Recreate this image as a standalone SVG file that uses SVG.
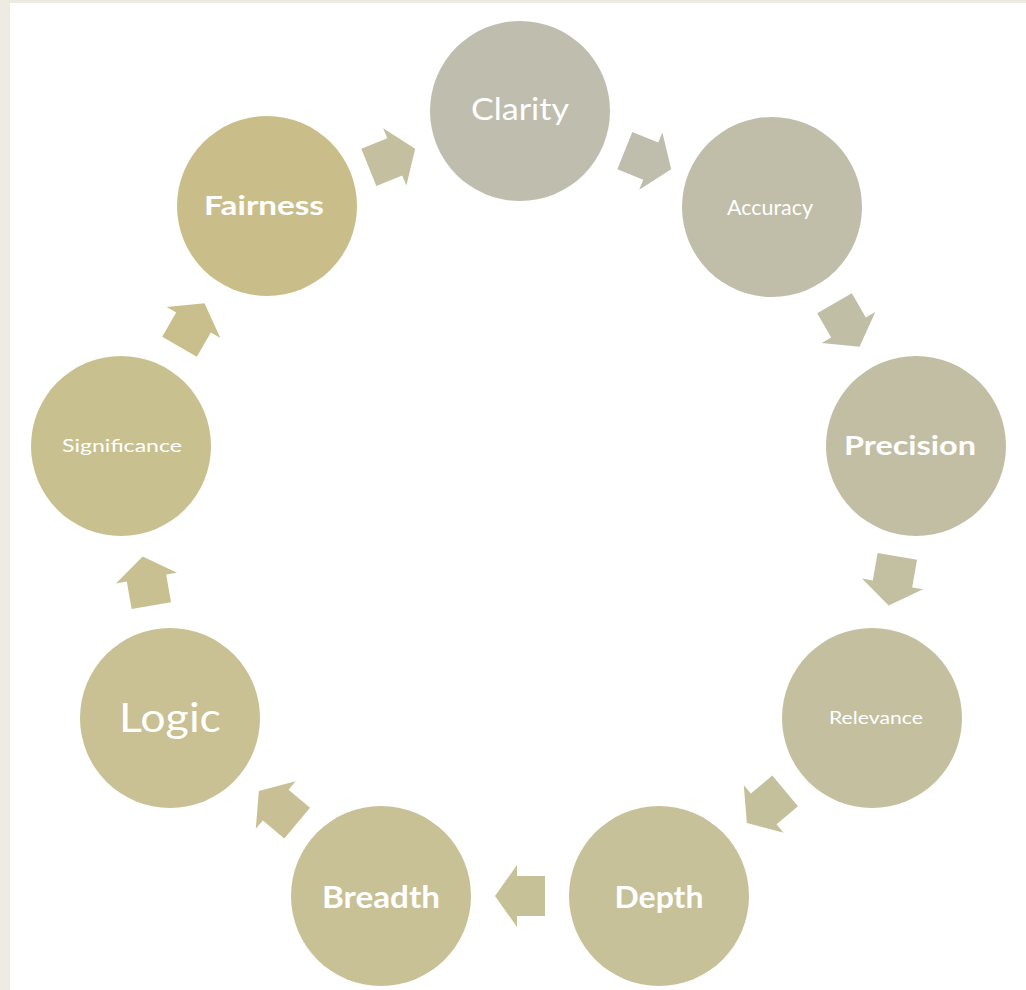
<svg xmlns="http://www.w3.org/2000/svg" width="1026" height="990" viewBox="0 0 1026 990">
<defs>
<style>
.lbl{fill:#ffffff;font-family:Lato,"Open Sans","Liberation Sans",sans-serif;text-anchor:middle}
.b{font-weight:bold}
</style>
<path id="arw" d="M-25,-20 H3 V-31 L25,0 L3,31 V20 H-25 Z"/>
</defs>
<rect x="0" y="0" width="1026" height="990" fill="#ffffff"/>
<rect x="0" y="0" width="10" height="990" fill="#eeebe3"/>
<rect x="0" y="0" width="1026" height="3" fill="#eeebe3"/>
<g id="connectors">
<use href="#arw" fill="#bfbdab" transform="translate(648,160) rotate(22)"/>
<use href="#arw" fill="#c1bea6" transform="translate(847,325) rotate(60)"/>
<use href="#arw" fill="#c3bfa1" transform="translate(893,581) rotate(100)"/>
<use href="#arw" fill="#c5c09c" transform="translate(766,807) rotate(140)"/>
<use href="#arw" fill="#c7c198" transform="translate(520,896) rotate(180)"/>
<use href="#arw" fill="#c8c094" transform="translate(278,807) rotate(220)"/>
<use href="#arw" fill="#c9c091" transform="translate(147,581) rotate(260)"/>
<use href="#arw" fill="#c9bf8d" transform="translate(192,325) rotate(300)"/>
<use href="#arw" fill="#c4bf9e" transform="translate(392,158) rotate(338)"/>
</g>
<g id="clarity"><circle cx="520" cy="111" r="90" fill="#bebdae"/><text class="lbl" x="520" y="120" font-size="31" textLength="98" lengthAdjust="spacingAndGlyphs">Clarity</text></g>
<g id="accuracy"><circle cx="772" cy="207" r="90" fill="#c0bea8"/><text class="lbl" x="770" y="215" font-size="22" textLength="86" lengthAdjust="spacingAndGlyphs">Accuracy</text></g>
<g id="precision"><circle cx="916" cy="446" r="90" fill="#c2bea3"/><text class="lbl b" x="910" y="455" font-size="26" textLength="132" lengthAdjust="spacingAndGlyphs">Precision</text></g>
<g id="relevance"><circle cx="872" cy="718" r="90" fill="#c4bf9f"/><text class="lbl" x="876" y="724" font-size="18" textLength="94" lengthAdjust="spacingAndGlyphs">Relevance</text></g>
<g id="depth"><circle cx="659" cy="896" r="90" fill="#c7c199"/><text class="lbl b" x="659" y="908" font-size="30" textLength="89" lengthAdjust="spacingAndGlyphs">Depth</text></g>
<g id="breadth"><circle cx="381" cy="896" r="90" fill="#c8c196"/><text class="lbl b" x="381" y="908" font-size="30" textLength="118" lengthAdjust="spacingAndGlyphs">Breadth</text></g>
<g id="logic"><circle cx="170" cy="718" r="90" fill="#c9c093"/><text class="lbl" x="170" y="732" font-size="40" textLength="102" lengthAdjust="spacingAndGlyphs">Logic</text></g>
<g id="significance"><circle cx="121" cy="446" r="90" fill="#c9c08f"/><text class="lbl" x="122" y="452" font-size="17" textLength="120" lengthAdjust="spacingAndGlyphs">Significance</text></g>
<g id="fairness"><circle cx="267" cy="206" r="90" fill="#c9be89"/><text class="lbl b" x="264" y="215" font-size="27" textLength="120" lengthAdjust="spacingAndGlyphs">Fairness</text></g>
</svg>
